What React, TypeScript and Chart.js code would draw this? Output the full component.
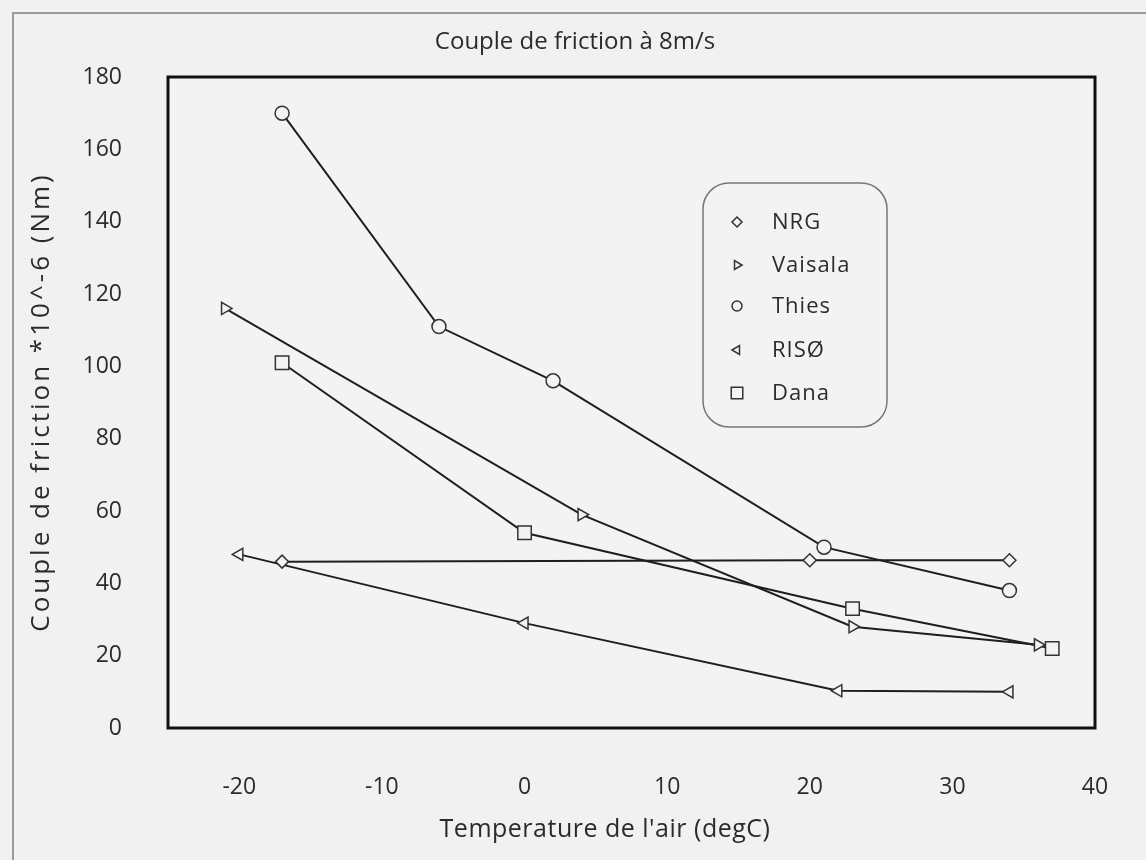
import React, { useEffect, useRef } from 'react';
import { Chart, registerables } from 'chart.js';
Chart.register(...registerables);

const chartTitle = 'Couple de friction à 8m/s';
const xTitle = "Temperature de l'air (degC)";
const yTitle = 'Couple de friction *10^-6 (Nm)';

const seriesNames = ['NRG', 'Vaisala', 'Thies', 'RISØ', 'Dana'];
const nrgTemp = [-17, 20, 34];
const nrgTorque = [46, 46.4, 46.4];
const vaisalaTemp = [-21, 4, 23, 36];
const vaisalaTorque = [116, 59, 28, 23];
const thiesTemp = [-17, -6, 2, 21, 34];
const thiesTorque = [170, 111, 96, 50, 38];
const risoTemp = [-20, 0, 22, 34];
const risoTorque = [48, 29, 10.3, 10];
const danaTemp = [-17, 0, 23, 37];
const danaTorque = [101, 54, 33, 22];
const xTickValues = [-20, -10, 0, 10, 20, 30, 40];

const FONT = '"Open Sans", "Noto Sans", sans-serif';
const PAGE_BG = '#f1f1f1';
const PLOT_BG = '#f3f3f3';
const TEXT = '#2b2b2b';

type Marker = { style: string; rotation: number; radius: number };
const markers: Marker[] = [
  { style: 'rectRot', rotation: 0, radius: 6.5 },
  { style: 'triangle', rotation: 90, radius: 7 },
  { style: 'circle', rotation: 0, radius: 7 },
  { style: 'triangle', rotation: -90, radius: 7 },
  { style: 'rect', rotation: 0, radius: 9.5 },
];

function drawMarker(ctx: CanvasRenderingContext2D, m: Marker, x: number, y: number, r: number) {
  ctx.save();
  ctx.translate(x, y);
  ctx.rotate((m.rotation * Math.PI) / 180);
  ctx.beginPath();
  if (m.style === 'circle') {
    ctx.arc(0, 0, r, 0, Math.PI * 2);
  } else if (m.style === 'rect') {
    const s = r * 1.05;
    ctx.rect(-s, -s, 2 * s, 2 * s);
  } else if (m.style === 'rectRot') {
    ctx.moveTo(0, -r);
    ctx.lineTo(r, 0);
    ctx.lineTo(0, r);
    ctx.lineTo(-r, 0);
    ctx.closePath();
  } else if (m.style === 'triangle') {
    ctx.moveTo(0, -r);
    ctx.lineTo(r * 0.87, r * 0.5);
    ctx.lineTo(-r * 0.87, r * 0.5);
    ctx.closePath();
  }
  ctx.fillStyle = PLOT_BG;
  ctx.fill();
  ctx.lineWidth = 1.5;
  ctx.strokeStyle = '#333';
  ctx.stroke();
  ctx.restore();
}

const decorPlugin = {
  id: 'decor',
  beforeDraw(chart: any) {
    const { ctx, chartArea: a, width, height } = chart;
    ctx.save();
    ctx.fillStyle = PAGE_BG;
    ctx.fillRect(0, 0, width, height);
    ctx.strokeStyle = '#9a9a9a';
    ctx.lineWidth = 2;
    ctx.beginPath();
    ctx.moveTo(13, height);
    ctx.lineTo(13, 13);
    ctx.lineTo(width, 13);
    ctx.stroke();
    ctx.fillStyle = PLOT_BG;
    ctx.fillRect(a.left, a.top, a.right - a.left, a.bottom - a.top);
    ctx.restore();
  },
  afterDraw(chart: any) {
    const { ctx, chartArea: a } = chart;
    ctx.save();
    ctx.strokeStyle = '#111';
    ctx.lineWidth = 3;
    ctx.strokeRect(a.left, a.top, a.right - a.left, a.bottom - a.top);

    ctx.fillStyle = TEXT;
    ctx.textAlign = 'center';
    ctx.textBaseline = 'middle';
    ctx.font = `24px ${FONT}`;
    ctx.fillText(chartTitle, 575, 42);
    ctx.font = `25px ${FONT}`;
    (ctx as any).letterSpacing = '0.5px';
    ctx.fillText(xTitle, 605, 830);
    ctx.save();
    ctx.translate(42, 402);
    ctx.rotate(-Math.PI / 2);
    ctx.font = `26px ${FONT}`;
    (ctx as any).letterSpacing = '3px';
    ctx.fillText(yTitle, 0, 0);
    ctx.restore();
    (ctx as any).letterSpacing = '0px';

    // legend
    const bx = 703, by = 183, bw = 184, bh = 244, br = 26;
    ctx.beginPath();
    ctx.moveTo(bx + br, by);
    ctx.lineTo(bx + bw - br, by);
    ctx.arcTo(bx + bw, by, bx + bw, by + br, br);
    ctx.lineTo(bx + bw, by + bh - br);
    ctx.arcTo(bx + bw, by + bh, bx + bw - br, by + bh, br);
    ctx.lineTo(bx + br, by + bh);
    ctx.arcTo(bx, by + bh, bx, by + bh - br, br);
    ctx.lineTo(bx, by + br);
    ctx.arcTo(bx, by, bx + br, by, br);
    ctx.closePath();
    ctx.fillStyle = PLOT_BG;
    ctx.fill();
    ctx.strokeStyle = '#777';
    ctx.lineWidth = 1.5;
    ctx.stroke();
    const rows = [222, 265, 306, 350, 393];
    ctx.font = `22px ${FONT}`;
    (ctx as any).letterSpacing = '1px';
    ctx.textAlign = 'left';
    seriesNames.forEach((name, i) => {
      drawMarker(ctx, markers[i], 737, rows[i], i === 4 ? 5.5 : 5);
      ctx.fillStyle = TEXT;
      ctx.fillText(name, 772, rows[i] + 1);
    });
    ctx.restore();
  },
};

function toPoints(xs: number[], ys: number[]) {
  return xs.map((x, i) => ({ x, y: ys[i] }));
}

export default function App() {
  const ref = useRef<HTMLCanvasElement | null>(null);
  useEffect(() => {
    document.body.style.margin = '0';
    const seriesData = [
      toPoints(nrgTemp, nrgTorque),
      toPoints(vaisalaTemp, vaisalaTorque),
      toPoints(thiesTemp, thiesTorque),
      toPoints(risoTemp, risoTorque),
      toPoints(danaTemp, danaTorque),
    ];
    const chart = new Chart(ref.current as HTMLCanvasElement, {
      type: 'scatter',
      data: {
        datasets: seriesNames.map((name, i) => ({
          label: name,
          data: seriesData[i],
          showLine: true,
          borderColor: '#1e1e1e',
          borderWidth: 2,
          pointStyle: markers[i].style as any,
          rotation: markers[i].rotation,
          pointRadius: markers[i].radius,
          pointBackgroundColor: PLOT_BG,
          pointBorderColor: '#333',
          pointBorderWidth: 1.5,
          clip: false as any,
        })),
      },
      options: {
        animation: false,
        responsive: false,
        maintainAspectRatio: false,
        layout: { padding: { left: 0, top: 77, right: 51, bottom: 0 } },
        plugins: { legend: { display: false }, title: { display: false }, tooltip: { enabled: false } },
        scales: {
          x: {
            type: 'linear',
            min: -25,
            max: 40,
            grid: { display: false, drawTicks: false },
            border: { display: false },
            afterBuildTicks: (s: any) => {
              s.ticks = xTickValues.map((v) => ({ value: v }));
            },
            afterFit: (s: any) => {
              s.height = 132;
              s.paddingLeft = 0;
              s.paddingRight = 0;
            },
            ticks: {
              padding: 46,
              color: TEXT,
              font: { family: FONT, size: 23 },
              maxRotation: 0,
              autoSkip: false,
            },
          },
          y: {
            type: 'linear',
            min: 0,
            max: 180,
            grid: { display: false, drawTicks: false },
            border: { display: false },
            afterFit: (s: any) => {
              s.width = 168;
              s.paddingTop = 0;
              s.paddingBottom = 0;
            },
            ticks: {
              stepSize: 20,
              padding: 46,
              color: TEXT,
              font: { family: FONT, size: 23 },
            },
          },
        },
      },
      plugins: [decorPlugin],
    });
    return () => chart.destroy();
  }, []);
  return (
    <div style={{ width: 1146, height: 860 }}>
      <canvas ref={ref} width={1146} height={860} style={{ display: 'block' }} />
    </div>
  );
}
